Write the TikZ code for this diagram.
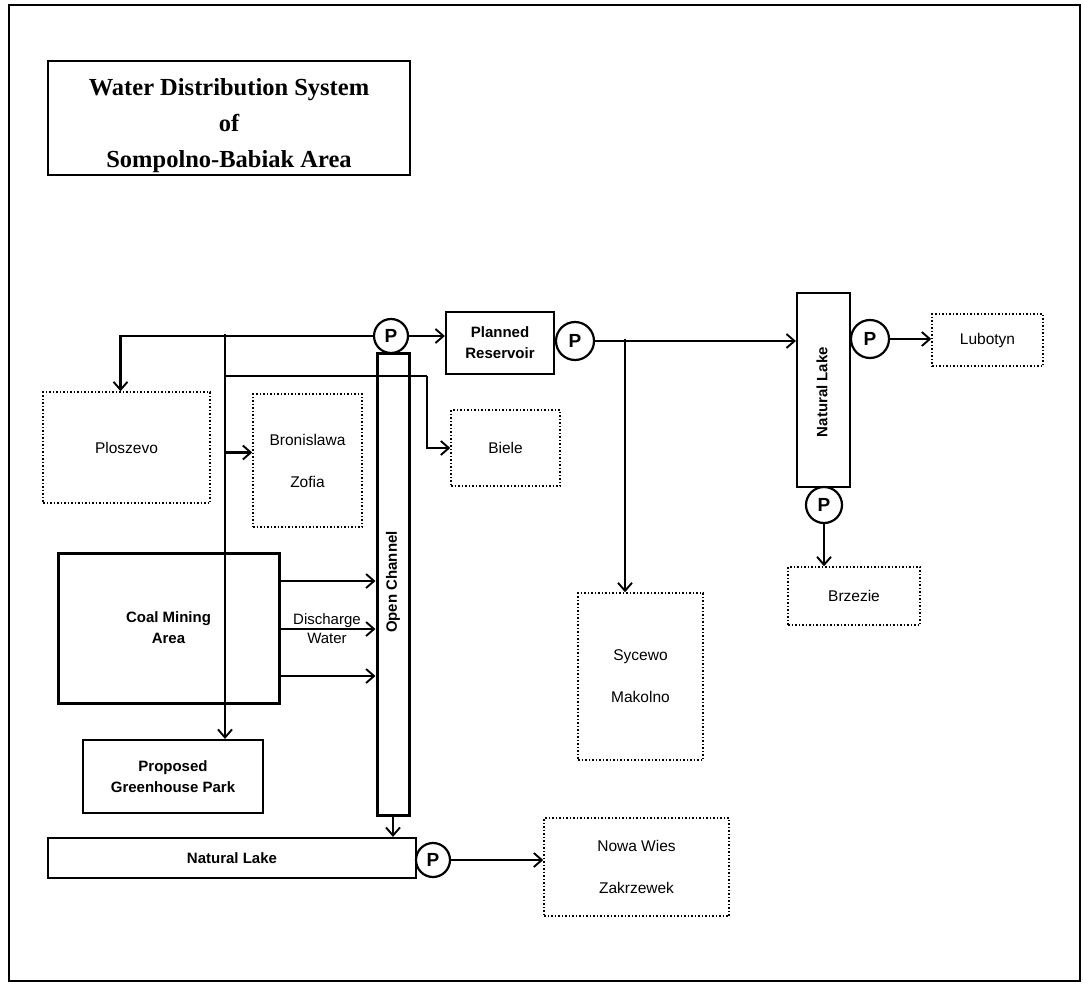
\documentclass[tikz,border=0pt]{standalone}
\usepackage{fontspec}
\setmainfont{Liberation Serif}
\setsansfont{Liberation Sans}
\usetikzlibrary{arrows.meta,calc}
\begin{document}
\begin{tikzpicture}[x=1pt,y=-1pt,
  flow/.style={line width=2.4pt,-{Straight Barb[length=8pt,width=14pt,line width=1.9pt]}},
  pipe/.style={line width=2.4pt},
  solidbox/.style={draw,line width=2.2pt,inner sep=0pt,align=center,font=\sffamily\bfseries\fontsize{15}{21}\selectfont},
  thickbox/.style={solidbox,line width=3pt},
  townbox/.style={draw,dotted,line width=1.5pt,inner sep=0pt,align=center,font=\sffamily\fontsize{15.5}{21}\selectfont},
  pump/.style={circle,draw,line width=2.2pt,inner sep=0pt,font=\sffamily\bfseries\fontsize{19}{19}\selectfont},
  lbl/.style={font=\sffamily\fontsize{15}{18}\selectfont,align=center,inner sep=0pt}]
\useasboundingbox (0,0) rectangle (1083,984);
\draw[line width=2.4pt] (9,5) rectangle (1080,981);
% title
\node[draw,line width=2.2pt,minimum width=362pt,minimum height=114pt] (title) at (229,118) {};
\node[align=center,inner sep=0pt,font=\rmfamily\bfseries\fontsize{24.5}{36}\selectfont] (titletext) at (229,126)
  {Water Distribution System\\of\\Sompolno-Babiak Area};
% pumps
\node[pump,minimum size=34pt] (P1) at (391,336) {P};
\node[pump,minimum size=38pt] (P2) at (575,341) {P};
\node[pump,minimum size=38pt] (P3) at (870,339) {P};
\node[pump,minimum size=36pt] (P4) at (824,505) {P};
\node[pump,minimum size=34pt] (P5) at (433,860) {P};
% solid boxes
\node[solidbox,minimum width=108pt,minimum height=62pt] (res) at (500,343) {Planned\\Reservoir};
\node[thickbox,minimum width=32pt,minimum height=462pt] (oc) at (393,584) {};
\node[lbl,font=\sffamily\bfseries\fontsize{15}{18}\selectfont,rotate=90] (octext) at (393,582) {Open Channel};
\node[solidbox,minimum width=53pt,minimum height=194pt] (nlv) at (823.5,390) {};
\node[lbl,font=\sffamily\bfseries\fontsize{15}{18}\selectfont,rotate=90] (nlvtext) at (822,392) {Natural Lake};
\node[thickbox,minimum width=221pt,minimum height=150pt] (coal) at (168.5,628) {Coal Mining\\Area};
\node[solidbox,minimum width=180pt,minimum height=73pt] (gh) at (173,776.5) {Proposed\\Greenhouse Park};
\node[solidbox,minimum width=368pt,minimum height=40pt] (nl) at (232,858) {Natural Lake};
% towns
\node[townbox,minimum width=167pt,minimum height=111pt] (plo) at (126.5,447.5) {Ploszevo};
\node[townbox,minimum width=109pt,minimum height=133pt,font=\sffamily\fontsize{15.5}{42}\selectfont] (bron) at (307.5,460.5) {Bronislawa\\Zofia};
\node[townbox,minimum width=109pt,minimum height=76pt] (biele) at (505.5,448) {Biele};
\node[townbox,minimum width=111pt,minimum height=52pt] (lub) at (987.5,340) {Lubotyn};
\node[townbox,minimum width=132pt,minimum height=58pt] (brz) at (854,596) {Brzezie};
\node[townbox,minimum width=125pt,minimum height=167pt,font=\sffamily\fontsize{15.5}{42}\selectfont] (syc) at (640.5,676.5) {Sycewo\\Makolno};
\node[townbox,minimum width=185pt,minimum height=98pt,font=\sffamily\fontsize{15.5}{42}\selectfont] (nw) at (636.5,867) {Nowa Wies\\Zakrzewek};
\node[lbl,font=\sffamily\fontsize{15}{19}\selectfont] (dw) at (327,629) {Discharge\\Water};
% junction coordinates
\coordinate (j1) at (225,334);
\coordinate (j2) at (225,376);
\coordinate (bt) at (427,376);
\coordinate (j3) at (625,339);
% connectors
\draw[flow] (P1.west) -| ([xshift=-6pt]plo.north);
\draw[flow] (j1) -- (j1 |- gh.north);
\draw[pipe] (j2) -- (bt);
\draw[flow] (bt) |- (biele.west);
\draw[flow] ([yshift=8pt]bron.west -| j1) -- ([yshift=8pt]bron.west);
\draw[flow] ([yshift=47pt]coal.east) -- ([yshift=47pt]coal.east -| oc.west);
\draw[flow] ([yshift=-1pt]coal.east) -- ([yshift=-1pt]coal.east -| oc.west);
\draw[flow] ([yshift=-48pt]coal.east) -- ([yshift=-48pt]coal.east -| oc.west);
\draw[flow] (oc.south) -- (oc.south |- nl.north);
\draw[flow] (P5.east) -- (P5.east -| nw.west);
\draw[flow] (P1.east) -- (P1.east -| res.west);
\draw[flow] (P2.east) -- (P2.east -| nlv.west);
\draw[flow] (j3) -- (j3 |- syc.north);
\draw[flow] (P3.east) -- (P3.east -| lub.west);
\draw[flow] (P4.south) -- (P4.south |- brz.north);
\end{tikzpicture}
\end{document}
